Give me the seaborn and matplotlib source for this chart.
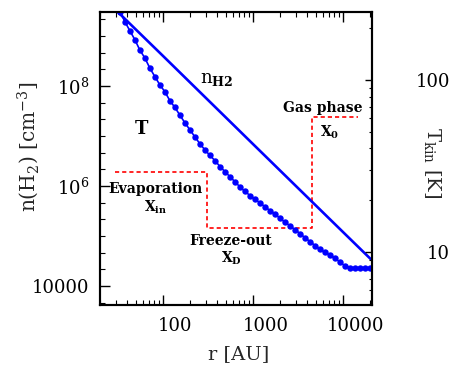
import numpy as np
import pandas as pd
import matplotlib
matplotlib.use("Agg")
import matplotlib.pyplot as plt
import seaborn as sns
from matplotlib.ticker import FixedLocator, LogLocator, NullFormatter
from matplotlib.transforms import ScaledTranslation

# ---------------- data ----------------
# H2 density power law (left axis)
r_nH2 = [30, 100, 1000, 10000, 21000]
n_H2 = [3.3e9, 4.0e8, 6.9e6, 1.2e5, 3.26e4]

# kinetic temperature profile (right axis)
r_T = [33.3, 37.8, 43.0, 48.9, 55.5, 63.1, 71.7, 81.5, 92.6, 105, 120, 136,
       155, 176, 200, 227, 258, 293, 333, 378, 430, 489, 555, 631, 717, 815,
       926, 1050, 1200, 1360, 1550, 1760, 2000, 2270, 2580, 2930, 3330, 3780,
       4300, 4890, 5550, 6310, 7170, 8150, 9260, 10500, 12000, 13600, 15500,
       17600, 20000]
T_kin = [250, 218, 193, 171, 149, 134, 117, 104.5, 93.5, 85.5, 75.5, 69.2,
         62.2, 56.2, 51.2, 46.6, 42.5, 39.2, 36.4, 34.0, 31.4, 29.3, 27.4,
         25.6, 23.9, 22.5, 21.3, 20.2, 19.3, 18.3, 17.4, 16.6, 15.7, 14.9,
         14.2, 13.5, 12.8, 12.1, 11.5, 10.9, 10.35, 9.94, 9.6, 9.17, 8.75,
         8.3, 8.1, 8.1, 8.1, 8.1, 8.1]

# abundance step profile (schematic, drawn on left axis)
r_step = [29.3, 306, 306, 4490, 4490, 14800]
n_step = [1.93e6, 1.93e6, 1.43e5, 1.43e5, 2.43e7, 2.43e7]

x_ticks = [100, 1000, 10000]
x_tick_labels = ["100", "1000", "10000"]
y_ticks = [1e4, 1e6, 1e8]
y_tick_labels = ["10000", r"$\mathregular{10^6}$", r"$\mathregular{10^8}$"]
T_ticks = [10, 100]
T_tick_labels = ["10", "100"]

# ---------------- style ----------------
sns.set_style("ticks")
plt.rcParams.update({
    "font.family": ["DejaVu Serif"],
    "mathtext.fontset": "dejavuserif",
    "axes.linewidth": 1.5,
    "axes.edgecolor": "black",
    "text.color": "black",
    "xtick.color": "black",
    "ytick.color": "black",
})

BLUE = "#0000ff"
RED = "#ff0000"

fig = plt.figure(figsize=(4.54, 3.65), dpi=100)
ax = fig.add_axes([0.2203, 0.1644, 0.5991, 0.8036])
ax.set_xscale("log")
ax.set_yscale("log")
ax2 = ax.twinx()
ax2.set_yscale("log")

df_n = pd.DataFrame({"r": r_nH2, "n": n_H2})
df_T = pd.DataFrame({"r": r_T, "T": T_kin})
df_s = pd.DataFrame({"r": r_step, "n": n_step})

sns.lineplot(data=df_s, x="r", y="n", ax=ax, sort=False, estimator=None,
             color=RED, linewidth=1.2, linestyle=(0, (2.5, 1.8)))
sns.lineplot(data=df_n, x="r", y="n", ax=ax, color=BLUE, linewidth=1.9)
sns.lineplot(data=df_T, x="r", y="T", ax=ax2, color=BLUE, linewidth=1.2,
             marker="o", markersize=4.6, markeredgewidth=0, markerfacecolor=BLUE)

ax.set_xlim(20, 21000)
ax.set_ylim(10 ** 3.62, 10 ** 9.486)
ax2.set_ylim(4.92, 249.5)

# left / bottom axes ticks
ax.set_xticks(x_ticks, x_tick_labels)
ax.xaxis.set_minor_locator(LogLocator(base=10, subs=np.arange(2, 10), numticks=20))
ax.xaxis.set_minor_formatter(NullFormatter())
ax.set_yticks(y_ticks, y_tick_labels)
ax.yaxis.set_minor_locator(FixedLocator(10 ** np.arange(3 + 2 / 3, 9.5, 1 / 3)))
ax.yaxis.set_minor_formatter(NullFormatter())
ax.tick_params(which="both", direction="in", top=True, right=False, color="black")
ax.tick_params(which="major", length=7, width=1)
ax.tick_params(which="minor", length=3.5, width=0.8)
ax.tick_params(axis="x", which="major", pad=9, labelsize=13)
ax.tick_params(axis="y", which="major", pad=8, labelsize=13)
for lbl in ax.get_xticklabels():
    lbl.set_transform(lbl.get_transform() + ScaledTranslation(9 / 72, 0, fig.dpi_scale_trans))

# right axis ticks
ax2.set_yticks(T_ticks, T_tick_labels)
ax2.yaxis.set_minor_formatter(NullFormatter())
ax2.tick_params(axis="y", which="both", direction="in", color="black")
ax2.tick_params(axis="y", which="major", length=5, width=1, pad=56, labelsize=13)
ax2.tick_params(axis="y", which="minor", length=2.5, width=0.8)
for lbl in ax2.get_yticklabels():
    lbl.set_horizontalalignment("right")

# axis labels
ax.set_xlabel("r [AU]", fontsize=14)
ax.xaxis.label.set_va("center")
ax.xaxis.set_label_coords(0.511, -0.167)
ax.set_ylabel(r"n(H$_2$) [cm$^{-3}$]", fontsize=14.5)
ax.yaxis.label.set_va("center")
ax.yaxis.set_label_coords(-0.2647, 0.539)
ax2.set_ylabel(r"T$_{\rm kin}$ [K]", fontsize=14, rotation=270)
ax2.yaxis.label.set_va("center")
ax2.yaxis.label.set_ha("center")
ax2.yaxis.set_label_coords(1.2206, 0.484)

# annotations
bold = dict(fontweight="bold", color="black")
ax.text(257, 1.13e8, r"n$_{\mathbf{H2}}$", fontsize=13, ha="left", va="baseline", color="black")
ax.text(57.7, 1.41e7, "T", fontsize=13, ha="center", va="center", **bold)
ax.text(83, 7.35e5, "Evaporation", fontsize=10, ha="center", va="baseline", **bold)
ax.text(83, 3.06e5, r"X$_{\mathbf{in}}$", fontsize=10, ha="center", va="baseline", **bold)
ax.text(570, 6.6e4, "Freeze-out", fontsize=10, ha="center", va="baseline", **bold)
ax.text(570, 2.88e4, r"X$_{\mathbf{D}}$", fontsize=10, ha="center", va="baseline", **bold)
ax.text(5900, 3.06e7, "Gas phase", fontsize=10, ha="center", va="baseline", **bold)
ax.text(7170, 9.5e6, r"X$_{\mathbf{0}}$", fontsize=10, ha="center", va="baseline", **bold)

for a in (ax, ax2):
    for s in a.spines.values():
        s.set_linewidth(1.5)
        s.set_color("black")

fig.savefig("out.png", dpi=100, facecolor="white")
